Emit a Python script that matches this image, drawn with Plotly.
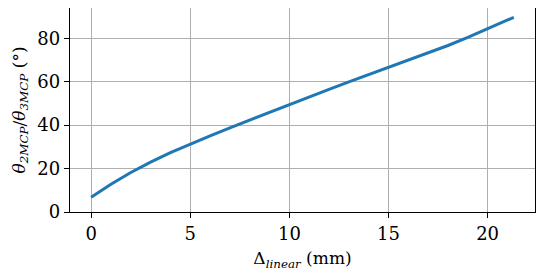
import plotly.graph_objects as go

# displacement (mm) and joint angle (deg)
delta_linear = [0, 1, 2, 3, 4, 5, 6, 7, 8, 9, 10, 11, 12, 13, 14, 15,
                16, 17, 18, 19, 20, 21.32]
theta_mcp = [6.8, 12.8, 18.2, 23.0, 27.3, 31.3, 35.1, 38.8, 42.4, 46.0, 49.6,
             53.1, 56.5, 59.9, 63.2, 66.5, 69.8, 73.2, 76.7, 80.4, 84.3, 89.7]

x_ticks = [0, 5, 10, 15, 20]
y_ticks = [0, 20, 40, 60, 80]

font = "DejaVu Serif"

fig = go.Figure()
fig.add_trace(go.Scatter(x=delta_linear, y=theta_mcp, mode="lines",
                         line=dict(color="#1f77b4", width=3),
                         showlegend=False))

axis_style = dict(showline=True, linecolor="black", linewidth=1.3, mirror=True,
                  ticks="outside", ticklen=5, tickwidth=1.2, tickcolor="black",
                  showgrid=True, gridcolor="#b0b0b0", gridwidth=1.2,
                  zeroline=False, tickfont=dict(family=font, size=18, color="black"))

fig.update_xaxes(range=[-1.066, 22.39], tickvals=x_ticks,
                 title=dict(text="Δ<sub><i>linear</i></sub> (mm)",
                            font=dict(family=font, size=17, color="black"),
                            standoff=9),
                 **axis_style)
fig.update_yaxes(range=[0, 93.97], tickvals=y_ticks,
                 title=dict(text="<i>θ</i><sub><i>2MCP</i></sub>/<i>θ</i><sub><i>3MCP</i></sub> (°)",
                            font=dict(family=font, size=17, color="black"),
                            standoff=7),
                 **axis_style)

# page body adds an 8px offset, margins below compensate for it
fig.update_layout(width=550, height=274,
                  margin=dict(l=62, r=23, t=0, b=70, autoexpand=False),
                  plot_bgcolor="white", paper_bgcolor="white")

fig.write_html("out.html")
